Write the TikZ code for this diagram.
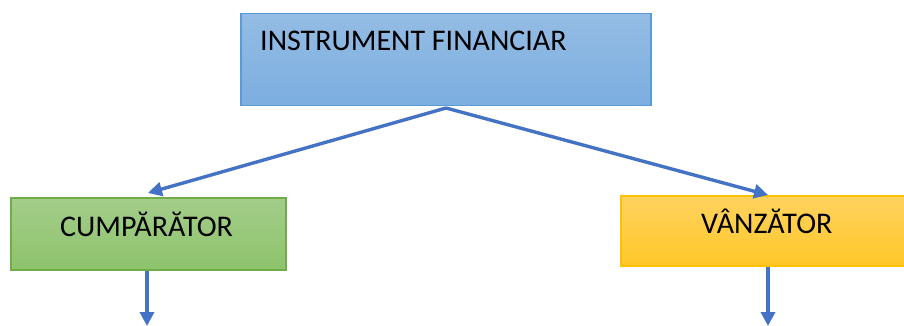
\documentclass[tikz,border=0pt]{standalone}
\usepackage{fontspec}
\setmainfont{Carlito}
\usetikzlibrary{arrows.meta}
\definecolor{linkblue}{HTML}{4472C4}
\definecolor{blueedge}{HTML}{5B9BD5}
\definecolor{greenedge}{HTML}{70AD47}
\definecolor{goldedge}{HTML}{FFC000}
\tikzset{
  panel/.style={draw, line width=1.5pt, minimum width=#1, inner sep=0pt, anchor=north west},
  bluepanel/.style={panel=410pt, draw=blueedge, minimum height=92pt,
    top color={rgb,255:red,148;green,188;blue,228}, middle color={rgb,255:red,164;green,194;blue,230},
    bottom color={rgb,255:red,124;green,174;blue,224}},
  greenpanel/.style={panel=275pt, draw=greenedge, minimum height=72pt,
    top color={rgb,255:red,163;green,205;blue,138}, middle color={rgb,255:red,176;green,213;blue,153},
    bottom color={rgb,255:red,142;green,195;blue,108}},
  goldpanel/.style={panel=290pt, draw=goldedge, minimum height=70pt,
    top color={rgb,255:red,255;green,210;blue,95}, middle color={rgb,255:red,255;green,218;blue,138},
    bottom color={rgb,255:red,255;green,200;blue,40}},
  caption/.style={font=\fontsize{30}{36}\selectfont, text=black, inner sep=0pt, anchor=base west},
  link/.style={draw=linkblue, line width=3.4pt, -{Triangle[length=14pt,width=14pt]}}
}
\begin{document}
\begin{tikzpicture}[x=1pt,y=-1pt]
  \useasboundingbox (0,0) rectangle (904,326);
  % boxes
  \node[bluepanel]  (instr) at (240,13)  {};
  \node[greenpanel] (buyer) at (10,197)  {};
  \node[goldpanel]  (seller) at (620,195) {};
  % labels
  \node[caption] (instrtext) at (260,51) {INSTRUMENT FINANCIAR};
  \node[caption] (buyertext) at (60,236) {CUMPĂRĂTOR};
  \node[caption] (sellertext) at (701,233) {VÂNZĂTOR};
  % free ends of the outgoing arrows
  \coordinate (buyerout) at (147,326);
  \coordinate (sellerout) at (768,326);
  \coordinate (split) at (446,108);
  % connectors
  \draw[link] (split) -- (148,193);
  \draw[link] (split) -- (768,195);
  \draw[link] (buyer.south -| buyerout) -- (buyerout);
  \draw[link] (seller.south -| sellerout) -- (sellerout);
\end{tikzpicture}
\end{document}
